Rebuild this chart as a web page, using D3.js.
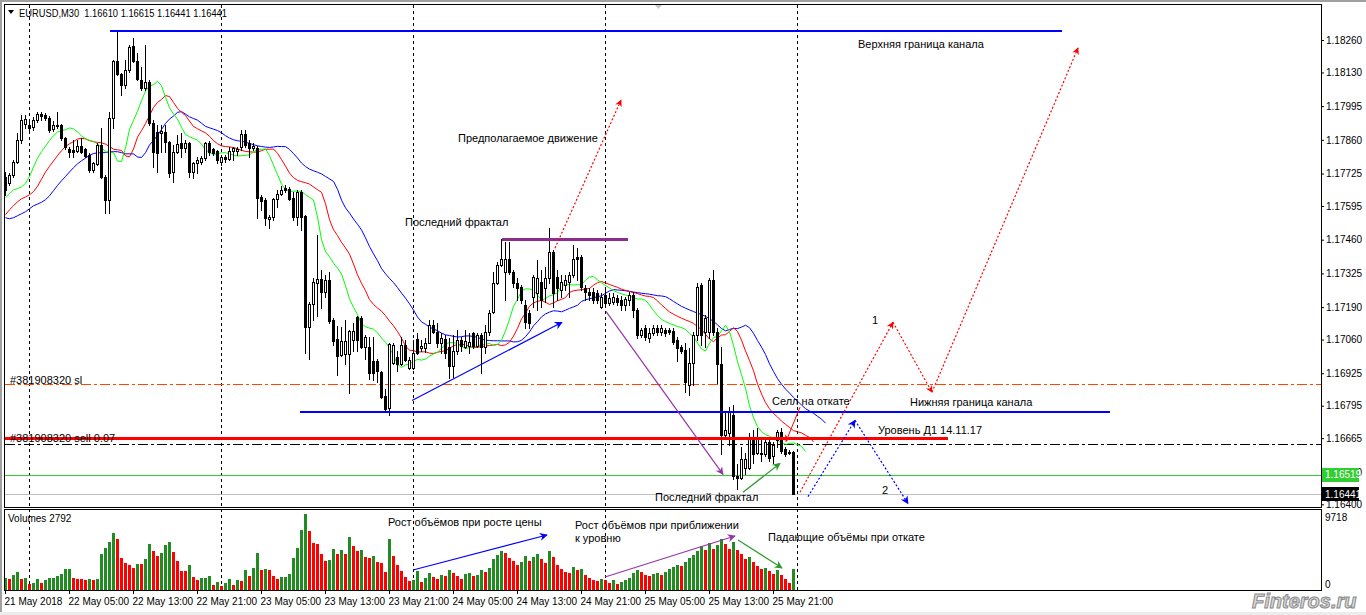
<!DOCTYPE html>
<html><head><meta charset="utf-8">
<script src="https://cdn.jsdelivr.net/npm/d3@7"></script>
<style>
body{margin:0;background:#fff;overflow:hidden;}
svg{display:block;font-family:"Liberation Sans",Arial,sans-serif;}
</style>
</head><body>
<svg id="chart" width="1366" height="615"></svg>
<script>
// ---------------- DATA ----------------
const symbol = "EURUSD,M30";
const firstBarUTC = Date.UTC(2018, 4, 21, 21, 0); // 21 May 2018 21:00, M30 bars
const opens = [
1.17710,1.17686,1.17718,1.17770,1.17859,1.17923,1.17919,1.17911,1.17939,1.17963,
1.17959,1.17947,1.17903,1.17919,1.17919,1.17867,1.17822,1.17818,1.17814,1.17834,
1.17822,1.17798,1.17738,1.17762,1.17838,1.17710,1.17618,1.17947,1.18175,1.18123,
1.18079,1.18139,1.18236,1.18175,1.18099,1.18067,1.18091,1.17927,1.17891,1.17887,
1.17891,1.17851,1.17730,1.17810,1.17847,1.17826,1.17847,1.17730,1.17766,1.17770,
1.17786,1.17847,1.17822,1.17814,1.17770,1.17790,1.17782,1.17814,1.17814,1.17830,
1.17883,1.17847,1.17826,1.17826,1.17630,1.17618,1.17542,1.17550,1.17622,1.17642,
1.17666,1.17662,1.17626,1.17550,1.17650,1.17554,1.17109,1.17201,1.17285,1.17301,
1.17249,1.17297,1.17137,1.17061,1.17000,1.17004,1.17004,1.17057,1.17149,1.17145,
1.17029,1.17029,1.16976,1.16976,1.16932,1.16832,1.16784,1.16968,1.16992,1.16964,
1.17037,1.16948,1.16948,1.17061,1.17025,1.17025,1.17045,1.17117,1.17089,1.17045,
1.17061,1.17029,1.16956,1.17016,1.17057,1.17029,1.17033,1.17085,1.17033,1.17077,
1.17029,1.17089,1.17169,1.17285,1.17357,1.17329,1.17381,1.17329,1.17285,1.17269,
1.17197,1.17165,1.17229,1.17245,1.17289,1.17265,1.17305,1.17410,1.17309,1.17257,
1.17277,1.17289,1.17317,1.17389,1.17389,1.17265,1.17249,1.17249,1.17245,1.17189,
1.17237,1.17205,1.17209,1.17225,1.17217,1.17197,1.17217,1.17237,1.17177,1.17077,
1.17105,1.17065,1.17085,1.17105,1.17089,1.17097,1.17097,1.17093,1.17057,1.17029,
1.17020,1.16876,1.16968,1.17077,1.17277,1.17089,1.17089,1.17297,1.17089,1.16964,
1.16676,1.16684,1.16756,1.16515,1.16507,1.16547,1.16547,1.16664,1.16607,1.16603,
1.16603,1.16648,1.16595,1.16656,1.16688,1.16623,1.16611,1.16610];
const highs = [
1.17730,1.17726,1.17778,1.17887,1.17959,1.17959,1.17935,1.17951,1.17971,1.17971,
1.17967,1.17955,1.17935,1.17971,1.17923,1.17871,1.17830,1.17859,1.17859,1.17867,
1.17826,1.17806,1.17770,1.17847,1.17907,1.17718,1.17971,1.18179,1.18292,1.18127,
1.18179,1.18240,1.18268,1.18208,1.18151,1.18240,1.18099,1.17939,1.17919,1.17919,
1.17919,1.17855,1.17838,1.17879,1.17887,1.17859,1.17851,1.17770,1.17790,1.17794,
1.17851,1.17855,1.17826,1.17818,1.17794,1.17798,1.17830,1.17830,1.17830,1.17899,
1.17899,1.17859,1.17847,1.17834,1.17638,1.17626,1.17558,1.17626,1.17658,1.17674,
1.17678,1.17670,1.17650,1.17658,1.17658,1.17558,1.17209,1.17305,1.17478,1.17337,
1.17317,1.17329,1.17145,1.17113,1.17109,1.17137,1.17097,1.17125,1.17153,1.17153,
1.17077,1.17069,1.17069,1.16984,1.16936,1.16860,1.17045,1.17045,1.17016,1.17069,
1.17057,1.16992,1.17057,1.17085,1.17057,1.17065,1.17137,1.17137,1.17125,1.17085,
1.17077,1.17065,1.17077,1.17097,1.17069,1.17097,1.17085,1.17089,1.17085,1.17085,
1.17117,1.17177,1.17329,1.17369,1.17462,1.17450,1.17450,1.17337,1.17305,1.17277,
1.17217,1.17177,1.17317,1.17377,1.17337,1.17349,1.17506,1.17418,1.17337,1.17317,
1.17317,1.17329,1.17438,1.17426,1.17397,1.17277,1.17265,1.17265,1.17257,1.17245,
1.17257,1.17245,1.17245,1.17237,1.17233,1.17229,1.17249,1.17249,1.17185,1.17105,
1.17117,1.17105,1.17117,1.17117,1.17117,1.17105,1.17105,1.17105,1.17069,1.17037,
1.17045,1.17025,1.17089,1.17285,1.17285,1.17157,1.17305,1.17337,1.17105,1.17029,
1.16764,1.16788,1.16796,1.16563,1.16628,1.16607,1.16684,1.16696,1.16704,1.16668,
1.16668,1.16668,1.16648,1.16696,1.16704,1.16628,1.16619,1.16615];
const lows = [
1.17638,1.17678,1.17710,1.17766,1.17847,1.17907,1.17899,1.17899,1.17931,1.17939,
1.17939,1.17891,1.17895,1.17907,1.17859,1.17822,1.17790,1.17790,1.17810,1.17806,
1.17790,1.17730,1.17730,1.17758,1.17706,1.17566,1.17566,1.17907,1.18119,1.18039,
1.18067,1.18131,1.18171,1.18099,1.18059,1.18059,1.17919,1.17750,1.17730,1.17810,
1.17810,1.17710,1.17690,1.17806,1.17790,1.17810,1.17710,1.17706,1.17726,1.17762,
1.17778,1.17798,1.17798,1.17766,1.17758,1.17770,1.17778,1.17778,1.17798,1.17818,
1.17830,1.17790,1.17818,1.17546,1.17578,1.17518,1.17506,1.17538,1.17590,1.17638,
1.17650,1.17618,1.17538,1.17518,1.17498,1.17008,1.16984,1.17137,1.17153,1.17185,
1.17229,1.17125,1.17037,1.16916,1.16996,1.16964,1.16844,1.17016,1.17016,1.17025,
1.16984,1.16900,1.16896,1.16888,1.16824,1.16776,1.16756,1.16964,1.16936,1.16960,
1.16976,1.16944,1.16944,1.17004,1.17016,1.17012,1.17045,1.17085,1.17029,1.17008,
1.16988,1.16904,1.16908,1.17004,1.17016,1.17025,1.17008,1.17025,1.17029,1.16924,
1.17008,1.17077,1.17165,1.17281,1.17353,1.17217,1.17321,1.17269,1.17217,1.17205,
1.17105,1.17105,1.17189,1.17177,1.17189,1.17209,1.17285,1.17189,1.17217,1.17229,
1.17257,1.17229,1.17309,1.17297,1.17257,1.17217,1.17217,1.17205,1.17205,1.17185,
1.17189,1.17197,1.17201,1.17197,1.17177,1.17177,1.17197,1.17149,1.17065,1.17069,
1.17057,1.17049,1.17077,1.17077,1.17077,1.17073,1.17081,1.17041,1.16976,1.17008,
1.16848,1.16836,1.16876,1.17057,1.17037,1.17029,1.17065,1.17077,1.16884,1.16603,
1.16664,1.16636,1.16503,1.16463,1.16503,1.16523,1.16543,1.16567,1.16603,1.16575,
1.16595,1.16575,1.16567,1.16628,1.16607,1.16595,1.16603,1.16441];
const closes = [
1.17658,1.17718,1.17770,1.17859,1.17939,1.17943,1.17907,1.17939,1.17963,1.17955,
1.17947,1.17899,1.17919,1.17915,1.17867,1.17830,1.17810,1.17810,1.17834,1.17810,
1.17794,1.17738,1.17766,1.17838,1.17710,1.17618,1.17947,1.18175,1.18123,1.18079,
1.18139,1.18232,1.18175,1.18103,1.18067,1.18091,1.17927,1.17810,1.17806,1.17895,
1.17851,1.17726,1.17810,1.17843,1.17826,1.17847,1.17730,1.17766,1.17778,1.17786,
1.17847,1.17810,1.17806,1.17778,1.17790,1.17782,1.17814,1.17826,1.17822,1.17883,
1.17838,1.17826,1.17834,1.17626,1.17614,1.17546,1.17550,1.17622,1.17642,1.17658,
1.17658,1.17622,1.17550,1.17650,1.17550,1.17109,1.17201,1.17289,1.17301,1.17249,
1.17297,1.17133,1.17053,1.16996,1.17053,1.17053,1.17093,1.17093,1.17057,1.17029,
1.17069,1.16924,1.16924,1.16936,1.16828,1.16780,1.17041,1.17037,1.16964,1.17037,
1.16980,1.16980,1.17008,1.17008,1.17033,1.17045,1.17117,1.17089,1.17045,1.17065,
1.17008,1.16956,1.17016,1.17057,1.17033,1.17053,1.17049,1.17033,1.17077,1.17029,
1.17089,1.17165,1.17285,1.17357,1.17381,1.17381,1.17329,1.17285,1.17265,1.17217,
1.17129,1.17125,1.17309,1.17305,1.17217,1.17305,1.17410,1.17245,1.17265,1.17289,
1.17297,1.17317,1.17381,1.17381,1.17269,1.17249,1.17237,1.17217,1.17217,1.17229,
1.17205,1.17225,1.17229,1.17209,1.17197,1.17221,1.17237,1.17177,1.17077,1.17097,
1.17069,1.17085,1.17105,1.17089,1.17105,1.17085,1.17089,1.17049,1.17025,1.17016,
1.16888,1.16968,1.17077,1.17269,1.17077,1.17145,1.17297,1.17089,1.16964,1.16676,
1.16696,1.16768,1.16515,1.16507,1.16583,1.16583,1.16664,1.16603,1.16664,1.16607,
1.16648,1.16587,1.16636,1.16688,1.16615,1.16603,1.16607,1.16441];
const volumes = [
1563,1437,1944,2366,1479,1606,845,1014,1437,930,
1352,1563,1648,1817,2113,2746,2760,1563,1479,1437,
1352,1437,1352,1437,4648,5366,6211,7267,6507,4098,
3549,3253,2831,3380,3370,3972,5915,5028,4394,4732,
5831,6126,4859,3718,2535,2500,3211,1690,1352,1563,
1580,1859,718,1099,592,1014,1479,718,1352,1268,
2620,1859,2873,4817,2620,2746,2620,1859,1437,1690,
1775,2113,4098,5366,7690,9718,7563,6000,5873,4648,
3760,3887,5281,4648,5155,4648,6802,5704,5070,5155,
4225,4200,4394,3634,3549,2408,6549,4394,3253,2493,
1775,1268,1352,2535,1100,1600,2300,1700,1500,2000,
1800,2600,2200,1900,1500,2100,2300,1800,2000,2600,
2400,2900,4000,4500,5000,4800,4200,3700,3300,3600,
4400,3800,4300,4600,4000,3500,5000,4300,3300,2800,
2400,2200,3000,2600,2800,2000,1600,1400,1200,1500,
1300,1000,1300,900,1100,1400,1600,2200,2600,2400,
2000,1800,2100,2300,2000,2400,2700,3000,3300,3100,
3600,4100,4500,5000,5700,5100,6000,5300,5800,6500,
5900,5300,6200,5200,4600,4000,4300,3600,3100,2700,
2900,2500,2100,2600,2000,1500,1000,2792];
// Alligator values shown on the first bars (they come from bars before the window)
const lipsHead  = [1.17630,1.17646,1.17662];
const teethHead = [1.17562,1.17582,1.17598,1.17614,1.17626];
const jawHead   = [1.17550,1.17546,1.17550,1.17558,1.17566,1.17574,1.17586,1.17598];
const priceTicks = [1.18260,1.18130,1.17995,1.17860,1.17725,1.17595,1.17460,1.17325,1.17190,1.17060,1.16925,1.16795,1.16665,1.16530,1.16400];
const timeTickBars = [0,16,32,48,64,80,96,112,128,144,160,176,192];
const timeTickLabels = ["21 May 2018","22 May 05:00","22 May 13:00","22 May 21:00","23 May 05:00","23 May 13:00","23 May 21:00","24 May 05:00","24 May 13:00","24 May 21:00","25 May 05:00","25 May 13:00","25 May 21:00"];
const volumeMax = 9718;
const levelUpperChannel = 1.18296;
const levelLowerChannel = 1.16768;
const levelD1 = 1.16664;
const levelFractal = 1.17462;
const levelStopLoss = 1.16880;
const levelOrder = 1.16640;
const levelGreen = 1.16519;

// ---------------- SETUP ----------------
const n = closes.length;
const svg = d3.select("#chart");
const FONT = '"Liberation Sans",Arial,sans-serif';
const x = d3.scaleLinear().domain([0, n - 1]).range([5, 793]);
const y = d3.scaleLinear().domain([1.16400, 1.18260]).range([504.3, 40]);
const yv = d3.scaleLinear().domain([0, volumeMax]).range([590.7, 514]);
const px = v => Math.round(v);
const fmt = d3.format(".5f");

const defs = svg.append("defs");
defs.append("clipPath").attr("id","clipMain").append("rect").attr("x",5).attr("y",5).attr("width",1316).attr("height",502);
defs.append("clipPath").attr("id","clipVol").append("rect").attr("x",5).attr("y",510).attr("width",1316).attr("height",80);
function marker(id, color, w, h){
  defs.append("marker").attr("id",id).attr("viewBox","0 0 10 10").attr("refX",9).attr("refY",5)
    .attr("markerWidth",w).attr("markerHeight",h).attr("markerUnits","userSpaceOnUse").attr("orient","auto")
    .append("path").attr("d","M0,0L10,5L0,10L3,5Z").attr("fill",color);
}
marker("mBlue","#0000ff",10,8);
marker("mRed","#ff0000",9,7);
marker("mPurple","#9933aa",10,8);
marker("mGreen","#2a9a2a",10,8);

// background + window frame
svg.append("rect").attr("width",1366).attr("height",615).attr("fill","#fff");
svg.append("rect").attr("x",0).attr("y",0).attr("width",1366).attr("height",2).attr("fill","#a0a0a0");
svg.append("rect").attr("x",0).attr("y",0).attr("width",2).attr("height",615).attr("fill","#a0a0a0");
svg.append("rect").attr("x",0).attr("y",612).attr("width",1366).attr("height",3).attr("fill","#ececec");

// day separators (period separators) — only up to the first bar after the data
const sepG = svg.append("g").attr("shape-rendering","crispEdges");
for (let j = 0; j <= n; j++) {
  const t = new Date(firstBarUTC + j * 1800000);
  if (t.getUTCHours() === 0 && t.getUTCMinutes() === 0) {
    const xx = px(x(j)) + 0.5;
    sepG.append("line").attr("x1",xx).attr("x2",xx).attr("y1",5).attr("y2",590)
      .attr("stroke","#000").attr("stroke-dasharray","3,3");
  }
}

// ---------------- MAIN PANEL ----------------
const main = svg.append("g").attr("clip-path","url(#clipMain)");

function hline(price, color, width, dash, x1, x2){
  const yy = px(y(price)) + (width % 2 ? 0.5 : 0);
  main.append("line").attr("x1",x1).attr("x2",x2).attr("y1",yy).attr("y2",yy)
    .attr("stroke",color).attr("stroke-width",width).attr("stroke-dasharray",dash||null)
    .attr("shape-rendering","crispEdges");
}
hline(levelStopLoss, "#ff4500", 1, "10,3,3,3", 5, 1321);
hline(levelOrder, "#000", 1, "10,3,3,3", 5, 1321);
hline(levelGreen, "#32cd32", 1, null, 5, 1321);
hline(closes[n-1], "#c0c0c0", 1, null, 5, 1321);

// Alligator (SMMA of median price: jaw 13/8, teeth 8/5, lips 5/3)
const median = d3.range(n).map(i => (highs[i] + lows[i]) / 2);
function alligator(head, period, shift){
  const out = head.map((v,i) => [i, v]);
  let s = head[head.length - 1];
  for (let i = 0; i < n; i++) {
    s = (s * (period - 1) + median[i]) / period;
    out.push([i + shift, s]);
  }
  return out;
}
const lineGen = d3.line().x(d => x(d[0]) + 0.5).y(d => y(d[1]) + 0.5);
[[jawHead,13,8,"#0000ff"],[teethHead,8,5,"#ff0000"],[lipsHead,5,3,"#00ff00"]].forEach(([h,p,s,c]) => {
  main.append("path").datum(alligator(h,p,s)).attr("d",lineGen).attr("fill","none")
    .attr("stroke",c).attr("stroke-width",1);
});

// candles
const cg = main.append("g").attr("shape-rendering","crispEdges");
for (let i = 0; i < n; i++) {
  const xi = px(x(i));
  const yh = px(y(highs[i])), yl = px(y(lows[i]));
  cg.append("rect").attr("x",xi).attr("y",yh).attr("width",1).attr("height",Math.max(1,yl-yh+1)).attr("fill","#000");
  const top = px(y(Math.max(opens[i],closes[i]))), bot = px(y(Math.min(opens[i],closes[i])));
  if (closes[i] > opens[i]) {
    cg.append("rect").attr("x",xi-1+0.5).attr("y",top+0.5).attr("width",2).attr("height",Math.max(bot-top,1))
      .attr("fill","#fff").attr("stroke","#000").attr("stroke-width",1);
  } else {
    cg.append("rect").attr("x",xi-1).attr("y",top).attr("width",3).attr("height",Math.max(bot-top+1,1)).attr("fill","#000");
  }
}

// channel / level lines (drawn objects)
function seg(b1,p1,b2,p2,color,width,dash,mk){
  return main.append("line").attr("x1",x(b1)).attr("y1",y(p1)).attr("x2",x(b2)).attr("y2",y(p2))
    .attr("stroke",color).attr("stroke-width",width).attr("stroke-dasharray",dash||null)
    .attr("marker-end",mk?`url(#${mk})`:null);
}
main.append("line").attr("x1",x(26.25)).attr("x2",x(264.25)).attr("y1",px(y(levelUpperChannel))).attr("y2",px(y(levelUpperChannel)))
  .attr("stroke","#0000ff").attr("stroke-width",2).attr("shape-rendering","crispEdges");
main.append("line").attr("x1",x(73.75)).attr("x2",x(276.25)).attr("y1",px(y(levelLowerChannel))).attr("y2",px(y(levelLowerChannel)))
  .attr("stroke","#0000ff").attr("stroke-width",2).attr("shape-rendering","crispEdges");
main.append("line").attr("x1",5).attr("x2",x(235.75)).attr("y1",px(y(levelD1))+0.5).attr("y2",px(y(levelD1))+0.5)
  .attr("stroke","#ff0000").attr("stroke-width",3).attr("shape-rendering","crispEdges");
main.append("line").attr("x1",x(124.25)).attr("x2",x(155.75)).attr("y1",px(y(levelFractal))+0.5).attr("y2",px(y(levelFractal))+0.5)
  .attr("stroke","#8e2c8e").attr("stroke-width",3).attr("shape-rendering","crispEdges");

// arrows
seg(101.75,1.16816,139.25,1.17129,"#0000ff",1.2,null,"mBlue");
seg(150.25,1.17173,179.5,1.16520,"#9933aa",1.2,null,"mPurple");
seg(137.5,1.17426,154,1.18019,"#ff0000",1.2,"2,2","mRed");
seg(198.75,1.16448,222,1.17129,"#ff0000",1.2,"2,2","mRed");
seg(222,1.17129,231.75,1.16849,"#ff0000",1.2,"2,2","mRed");
seg(231.75,1.16849,268.25,1.18228,"#ff0000",1.2,"2,2","mRed");
seg(200.75,1.16431,212.5,1.16736,"#0000ff",1.2,"2,2","mBlue");
seg(212.5,1.16736,225.75,1.16403,"#0000ff",1.2,"2,2","mBlue");
seg(198.75,1.16789,195.25,1.16652,"#ff0000",1,null,"mRed");
seg(184.5,1.16448,193.75,1.16564,"#2a9a2a",1.2,null,"mGreen");

// texts in main panel
const mainTexts = [
  ["Верхняя граница канала",213.25,1.18244],
  ["Предполагаемое движение",113.25,1.17867],
  ["Последний фрактал",100,1.17530],
  ["Селл на откате",191.75,1.16812],
  ["Нижняя граница канала",226.25,1.16808],
  ["Уровень Д1 14.11.17",218.25,1.16696],
  ["Последний фрактал",162.5,1.16427],
  ["1",216.75,1.17137],
  ["2",219.25,1.16456],
  ["#381908320 sl",1.25,1.16897],
  ["#381908320 sell 0.07",1.25,1.16664]
];
mainTexts.forEach(([t,b,p]) => {
  main.append("text").attr("x",x(b)).attr("y",y(p)).attr("dy","0.35em")
    .attr("font-size",11).attr("fill","#000").text(t);
});

// chart-shift marker
svg.append("path").attr("d","M654,4L663,4L658.5,9Z").attr("fill","#c8c8c8");

// header
svg.append("path").attr("d","M8,10L14,10L11,14Z").attr("fill","#000");
svg.append("text").attr("x",19).attr("y",13).attr("dy","0.35em").attr("font-size",10).attr("fill","#000")
  .attr("xml:space","preserve").attr("textLength",208).attr("lengthAdjust","spacingAndGlyphs")
  .text(`${symbol}  ${fmt(opens[n-1])} ${fmt(highs[n-1])} ${fmt(lows[n-1])} ${fmt(closes[n-1])}`);

// ---------------- VOLUME PANEL ----------------
const vol = svg.append("g").attr("clip-path","url(#clipVol)").attr("shape-rendering","crispEdges");
for (let i = 0; i < n; i++) {
  const xi = px(x(i));
  const top = px(yv(volumes[i]));
  const base = px(yv(0));
  const up = i === 0 || volumes[i] > volumes[i-1];
  vol.append("rect").attr("x",xi-1).attr("y",top).attr("width",3).attr("height",Math.max(base-top,1))
    .attr("fill", up ? "#228b22" : "#ff0000");
}
const volA = svg.append("g").attr("clip-path","url(#clipVol)");
function vseg(b1,v1,b2,v2,color,mk){
  volA.append("line").attr("x1",x(b1)).attr("y1",yv(v1)).attr("x2",x(b2)).attr("y2",yv(v2))
    .attr("stroke",color).attr("stroke-width",1.2).attr("marker-end",`url(#${mk})`);
}
vseg(102,2623,135.5,7057,"#0000ff","mBlue");
vseg(150,1736,182.5,6930,"#9933aa","mPurple");
vseg(183.25,6424,194.25,2876,"#2a9a2a","mGreen");
[["Рост объёмов при росте цены",95.75,8704],["Рост объёмов при приближении",142.5,8325],["к уровню",142.5,6677],["Падающие объёмы при откате",190.75,6804]]
  .forEach(([t,b,v]) => volA.append("text").attr("x",x(b)).attr("y",yv(v)).attr("dy","0.35em").attr("font-size",11).attr("fill","#000").text(t));
svg.append("text").attr("x",8).attr("y",518).attr("dy","0.35em").attr("font-size",10).attr("fill","#000")
  .text("Volumes " + volumes[n-1]);

// frames
const fr = svg.append("g").attr("fill","none").attr("stroke","#000").attr("shape-rendering","crispEdges");
fr.append("rect").attr("x",4.5).attr("y",4.5).attr("width",1317).attr("height",503);
fr.append("rect").attr("x",4.5).attr("y",509.5).attr("width",1317).attr("height",81);

// ---------------- AXES ----------------
const ya = svg.append("g").attr("transform","translate(1321,0)")
  .call(d3.axisRight(y).tickValues(priceTicks).tickSize(3).tickPadding(2).tickFormat(fmt));
ya.select(".domain").remove();
ya.selectAll("text").attr("font-size",10).attr("font-family",FONT).attr("fill","#000");
ya.selectAll("line").attr("stroke","#000");

function priceBox(p, bg){
  const yy = y(p);
  svg.append("rect").attr("x",1322).attr("y",Math.round(yy)-7).attr("width",37).attr("height",14).attr("fill",bg);
  svg.append("text").attr("x",1325).attr("y",yy).attr("dy","0.35em").attr("font-size",10).attr("fill","#fff").text(fmt(p));
}
priceBox(levelGreen, "#32cd32");
priceBox(closes[n-1], "#000");

svg.append("text").attr("x",1325).attr("y",yv(volumeMax)+3).attr("dy","0.35em").attr("font-size",10).attr("fill","#000").text(volumeMax);
svg.append("text").attr("x",1325).attr("y",yv(0)-6).attr("dy","0.35em").attr("font-size",10).attr("fill","#000").text(0);

const xa = svg.append("g").attr("transform","translate(0,590)")
  .call(d3.axisBottom(x).tickValues(timeTickBars).tickSize(4).tickPadding(4).tickFormat((d,i) => timeTickLabels[i]));
xa.select(".domain").remove();
xa.selectAll("text").attr("font-size",10).attr("font-family",FONT).attr("fill","#000").attr("text-anchor","start").attr("dx",-1);
xa.selectAll("line").attr("stroke","#000");

// watermark
svg.append("text").attr("x",1252).attr("y",608).attr("font-size",20).attr("font-weight","bold").attr("font-style","italic")
  .attr("fill","#d8d8d8").attr("stroke","#8a8a8a").attr("stroke-width",1).attr("font-family",FONT).text("Finteros.ru");
</script>
</body></html>
